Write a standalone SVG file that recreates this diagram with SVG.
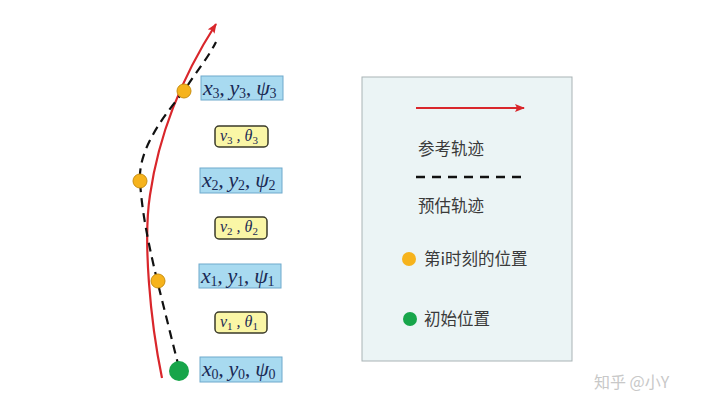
<svg xmlns="http://www.w3.org/2000/svg" width="720" height="412" viewBox="0 0 720 412">
<defs>
<marker id="ah" markerWidth="10" markerHeight="8" refX="9" refY="4" orient="auto" markerUnits="userSpaceOnUse">
<path d="M0,0 L10,4 L0,8 L2,4 Z" fill="#d9262b"/>
</marker>
<style>
.ref{fill:none;stroke:#d9262b;stroke-width:2.2}
.est{fill:none;stroke:#111;stroke-width:2.2;stroke-dasharray:9,6}
.bb{fill:#a8daf0;stroke:#6fa9cc;stroke-width:1}
.yb{fill:#faf6a6;stroke:#3a3a2a;stroke-width:1.5}
.m{font-family:"Liberation Serif",serif;font-style:italic;font-size:22px;fill:#1a2a55;letter-spacing:-0.3px}
.mv{font-family:"Liberation Serif",serif;font-style:italic;font-size:16px;fill:#1a2a55}
.s{font-size:14px;font-style:normal}
.s2{font-size:11px;font-style:normal}
.cn{font-family:"Noto Sans CJK SC",sans-serif;font-size:16.5px;fill:#3a3a3a}
.od{fill:#f6b31c;stroke:#c98f10;stroke-width:1}
.gd{fill:#17a54a}
</style>
</defs>
<rect width="720" height="412" fill="#fff"/>
<g id="connectors">
<path class="ref" d="M162,378 C150,320 143,240 150,195 C158,140 180,80 216,24" marker-end="url(#ah)"/>
<path class="est" d="M179,368 C172,340 162,300 157,280 C150,250 142,215 140,181 C138,150 162,118 184,91 C196,72 208,58 216,42"/>
</g>
<g id="p3"><circle class="od" cx="184" cy="91" r="7"/></g>
<g id="p2"><circle class="od" cx="140" cy="181" r="7"/></g>
<g id="p1"><circle class="od" cx="158" cy="281" r="7"/></g>
<g id="p0"><circle class="gd" cx="179" cy="371" r="10"/></g>
<g id="s3"><rect class="bb" x="201" y="76" width="82" height="24"/>
<text class="m" x="203" y="95">x<tspan class="s" dy="3">3</tspan><tspan dy="-3">, y</tspan><tspan class="s" dy="3">3</tspan><tspan dy="-3">, ψ</tspan><tspan class="s" dy="3">3</tspan></text></g>
<g id="c3"><rect class="yb" x="215" y="126" width="53" height="21" rx="4"/>
<text class="mv" x="220" y="141">v<tspan class="s2" dy="3">3</tspan><tspan dy="-3"> , θ</tspan><tspan class="s2" dy="3">3</tspan></text></g>
<g id="s2"><rect class="bb" x="200" y="168" width="82" height="25"/>
<text class="m" x="202" y="187">x<tspan class="s" dy="3">2</tspan><tspan dy="-3">, y</tspan><tspan class="s" dy="3">2</tspan><tspan dy="-3">, ψ</tspan><tspan class="s" dy="3">2</tspan></text></g>
<g id="c2"><rect class="yb" x="215" y="217" width="52" height="22" rx="4"/>
<text class="mv" x="220" y="232">v<tspan class="s2" dy="3">2</tspan><tspan dy="-3"> , θ</tspan><tspan class="s2" dy="3">2</tspan></text></g>
<g id="s1"><rect class="bb" x="199" y="264" width="82" height="24"/>
<text class="m" x="201" y="283">x<tspan class="s" dy="3">1</tspan><tspan dy="-3">, y</tspan><tspan class="s" dy="3">1</tspan><tspan dy="-3">, ψ</tspan><tspan class="s" dy="3">1</tspan></text></g>
<g id="c1"><rect class="yb" x="215" y="312" width="52" height="21" rx="4"/>
<text class="mv" x="220" y="327">v<tspan class="s2" dy="3">1</tspan><tspan dy="-3"> , θ</tspan><tspan class="s2" dy="3">1</tspan></text></g>
<g id="s0"><rect class="bb" x="200" y="357" width="82" height="25"/>
<text class="m" x="202" y="376">x<tspan class="s" dy="3">0</tspan><tspan dy="-3">, y</tspan><tspan class="s" dy="3">0</tspan><tspan dy="-3">, ψ</tspan><tspan class="s" dy="3">0</tspan></text></g>
<g id="legend">
<rect x="362" y="77" width="210" height="284" fill="#ebf4f5" stroke="#a9b3b5" stroke-width="1"/>
<line x1="416" y1="108" x2="524" y2="108" class="ref" marker-end="url(#ah)"/>
<text class="cn" x="418" y="155">参考轨迹</text>
<line x1="416" y1="177" x2="526" y2="177" stroke="#111" stroke-width="2.5" stroke-dasharray="9,7"/>
<text class="cn" x="418" y="212">预估轨迹</text>
<circle cx="409" cy="259" r="7" fill="#f6b31c"/>
<text class="cn" x="424" y="265">第i时刻的位置</text>
<circle cx="410" cy="319" r="7" class="gd"/>
<text class="cn" x="424" y="325">初始位置</text>
</g>
<text x="594" y="388" font-family="Noto Sans CJK SC, sans-serif" font-size="16" fill="#c8c8c8">知乎 @小Y</text>
</svg>
